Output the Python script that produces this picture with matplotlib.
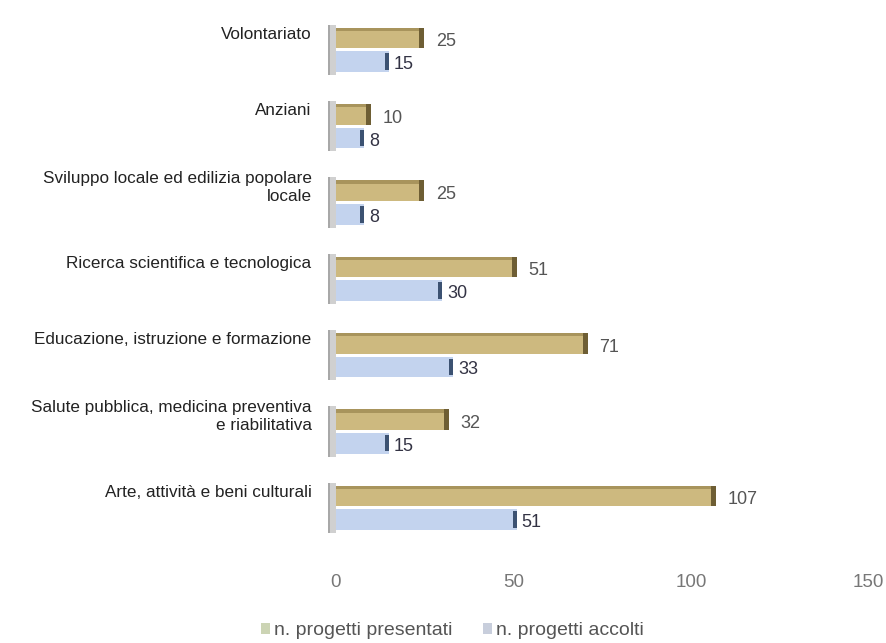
import numpy as np
import matplotlib.pyplot as plt
from matplotlib.patches import Patch

plt.rcParams['font.family'] = ['Liberation Sans', 'DejaVu Sans']

categorie = ["Arte, attività e beni culturali",
             "Salute pubblica, medicina preventiva\ne riabilitativa",
             "Educazione, istruzione e formazione",
             "Ricerca scientifica e tecnologica",
             "Sviluppo locale ed edilizia popolare\nlocale",
             "Anziani",
             "Volontariato"]
presentati = [107, 32, 71, 51, 25, 10, 25]
accolti = [51, 15, 33, 30, 8, 8, 15]
tick_vals = [0, 50, 100, 150]

y = np.arange(len(categorie))
h = 0.27
off = 0.155

fig = plt.figure(figsize=(8.87, 6.43), dpi=100)
ax = fig.add_axes([325/887, 1-555/643, 562/887, 540/643])

# "muro" grigio a sinistra di ogni gruppo
ax.barh(y, 2.2, left=-2.2, height=0.66, color="#d0d0d0", edgecolor="none")
ax.barh(y, 0.6, left=-2.2, height=0.66, color="#a8a8a8", edgecolor="none")

# barre
ax.barh(y+off, presentati, height=h, color="#cdb97f", edgecolor="none")
ax.barh(y+off+h*0.42, presentati, height=h*0.16, color="#a8945c", edgecolor="none")
ax.barh(y+off, [1.4]*len(y), left=np.array(presentati)-1.4, height=h,
        color="#6e5e34", edgecolor="none")
ax.barh(y-off, accolti, height=h, color="#c3d3ee", edgecolor="none")
ax.barh(y-off, [1.2]*len(y), left=np.array(accolti)-1.2, height=h*0.8,
        color="#3c5272", edgecolor="none")

for i in range(len(y)):
    ax.text(presentati[i]+3.2, y[i]+off-0.05, str(presentati[i]), va="center",
            ha="left", fontsize=13, color="#555555")
    ax.text(accolti[i]+1.4, y[i]-off-0.04, str(accolti[i]), va="center",
            ha="left", fontsize=13, color="#333344")
    ax.text(-6.8, y[i]+0.2, categorie[i], ha="right", va="center",
            fontsize=12.3, color="#222222", linespacing=1.25)

ax.set_xlim(-3, 155.2)
ax.set_ylim(-0.62, 6.457)
ax.set_xticks(tick_vals)
ax.set_xticklabels([str(v) for v in tick_vals], fontsize=13.5, color="#777777")
ax.tick_params(axis="x", length=0, pad=14)
ax.set_yticks([])
for s in ax.spines.values():
    s.set_visible(False)

handles = [Patch(facecolor="#ccd4b4", edgecolor="none"),
           Patch(facecolor="#c8cedc", edgecolor="none")]
fig.legend(handles, ["n. progetti presentati", "n. progetti accolti"],
           loc="center", bbox_to_anchor=(0.51, 0.019), ncol=2, frameon=False,
           fontsize=14, labelcolor="#555555", handlelength=0.45, handleheight=0.45,
           handletextpad=0.2, columnspacing=1.6)

fig.savefig("out.png", dpi=100)
